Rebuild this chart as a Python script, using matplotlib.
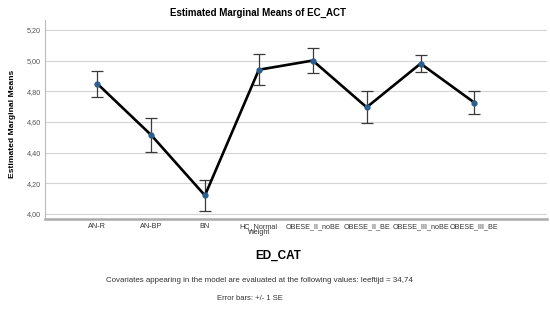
import matplotlib.pyplot as plt
import numpy as np

plt.rcParams['font.family'] = ['Liberation Sans', 'DejaVu Sans']

# data
categories = ['AN-R', 'AN-BP', 'BN', 'HC_Normal\nWeight', 'OBESE_II_noBE',
              'OBESE_II_BE', 'OBESE_III_noBE', 'OBESE_III_BE']
means = [4.85, 4.515, 4.12, 4.94, 5.00, 4.695, 4.98, 4.725]
se = [0.085, 0.11, 0.10, 0.10, 0.08, 0.105, 0.055, 0.075]
yticks = [4.0, 4.2, 4.4, 4.6, 4.8, 5.0, 5.2]

fig = plt.figure(figsize=(5.5, 3.21), dpi=100)
ax = fig.add_axes([0.082, 0.318, 0.913, 0.62])

x = np.arange(len(categories))
ax.errorbar(x, means, yerr=se, fmt='none', ecolor='#3a3a3a', elinewidth=0.9,
            capsize=4.5, capthick=0.9, zorder=3)
ax.plot(x, means, color='black', lw=1.9, zorder=4)
ax.plot(x, means, 'o', color='#2b5f8e', ms=3.5, zorder=5)

ax.set_xlim(-0.965, 8.35)
ax.set_ylim(3.967, 5.265)
ax.set_yticks(yticks)
ax.set_yticklabels([('%.2f' % v).replace('.', ',') for v in yticks], fontsize=5.2, color='#555555')
ax.set_xticks(x)
ax.set_xticklabels(categories, fontsize=5.2, color='#333333', linespacing=0.85)
ax.tick_params(axis='both', length=0, pad=3)
ax.yaxis.grid(True, color='#d4d4d4', lw=0.8)
ax.set_axisbelow(True)

for s in ['top', 'right']:
    ax.spines[s].set_visible(False)
ax.spines['left'].set_color('#bbbbbb')
ax.spines['left'].set_linewidth(0.8)
ax.spines['bottom'].set_color('#aaaaaa')
ax.spines['bottom'].set_linewidth(1.8)

fig.text(258 / 550, 1 - 13 / 321, 'Estimated Marginal Means of EC_ACT', ha='center', va='center',
         fontsize=7, fontweight='bold')
fig.text(13 / 550, 1 - 124 / 321, 'Estimated Marginal Means', rotation=90, ha='center', va='center',
         fontsize=6.1, fontweight='bold')
fig.text(278 / 550, 1 - 256 / 321, 'ED_CAT', ha='center', va='center', fontsize=8.5, fontweight='bold')

fig.text(259 / 550, 1 - 280 / 321, 'Covariates appearing in the model are evaluated at the following values: leeftijd = 34,74',
         ha='center', va='center', fontsize=5.7, color='#333333')
fig.text(250 / 550, 1 - 298 / 321, 'Error bars: +/- 1 SE', ha='center', va='center', fontsize=5.5, color='#333333')

plt.savefig('out.png', dpi=100)
